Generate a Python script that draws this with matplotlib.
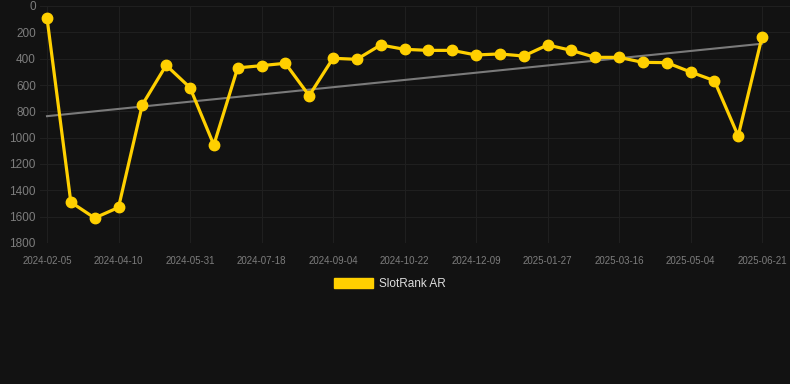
import numpy as np
import matplotlib
matplotlib.use("Agg")
import matplotlib.pyplot as plt
from matplotlib.patches import Patch

# rank per snapshot (lower is better), 31 snapshots
ranks = [90, 1490, 1610, 1530, 750, 450, 620, 1055, 470, 453, 435, 681,
         397, 405, 296, 329, 337, 337, 372, 364, 380, 296, 337, 390, 390,
         428, 430, 501, 567, 987, 236]
tick_labels = ["2024-02-05", "2024-04-10", "2024-05-31", "2024-07-18",
               "2024-09-04", "2024-10-22", "2024-12-09", "2025-01-27",
               "2025-03-16", "2025-05-04", "2025-06-21"]
y_ticks = [0, 200, 400, 600, 800, 1000, 1200, 1400, 1600, 1800]

BG = "#121212"
GOLD = "#ffd000"
GRID = "#1f1f1f"
TXT = "#7d7d7d"

plt.rcParams["font.family"] = ["Liberation Sans", "DejaVu Sans"]

W, H = 790, 384
fig = plt.figure(figsize=(W / 100, H / 100), dpi=100, facecolor=BG)
left, right, top, bottom = 40, 790, 6, 243
ax = fig.add_axes([left / W, 1 - bottom / H, (right - left) / W, (bottom - top) / H])
ax.set_facecolor(BG)

x = np.arange(len(ranks))
ax.plot(x, ranks, color=GOLD, lw=2.3, marker="o", ms=7.5, zorder=3)

coef = np.polyfit(x, ranks, 1)
ax.plot(x, np.polyval(coef, x), color="#7a7a7a", lw=1.5, zorder=2)

step = (762 - 47) / 30
ax.set_xlim(-(47 - left) / step, 30 + (right - 762) / step)
ax.set_ylim(1800, 0)
ax.set_xticks(x[::3])
ax.set_xticklabels(tick_labels)
ax.set_yticks(y_ticks)
ax.grid(True, color=GRID, lw=0.8)
for s in ax.spines.values():
    s.set_visible(False)
ax.tick_params(axis="x", colors=TXT, labelsize=7, length=0, pad=9)
ax.tick_params(axis="y", colors=TXT, labelsize=8.5, length=0, pad=3)

leg = fig.legend(handles=[Patch(color=GOLD, label="SlotRank AR")],
                 loc="center", bbox_to_anchor=(390 / W, 1 - 284 / H),
                 frameon=False, handlelength=3.3, handleheight=0.9,
                 fontsize=8.5, labelcolor="#dddddd", handletextpad=0.5)

fig.savefig("out.png", dpi=100, facecolor=BG)
